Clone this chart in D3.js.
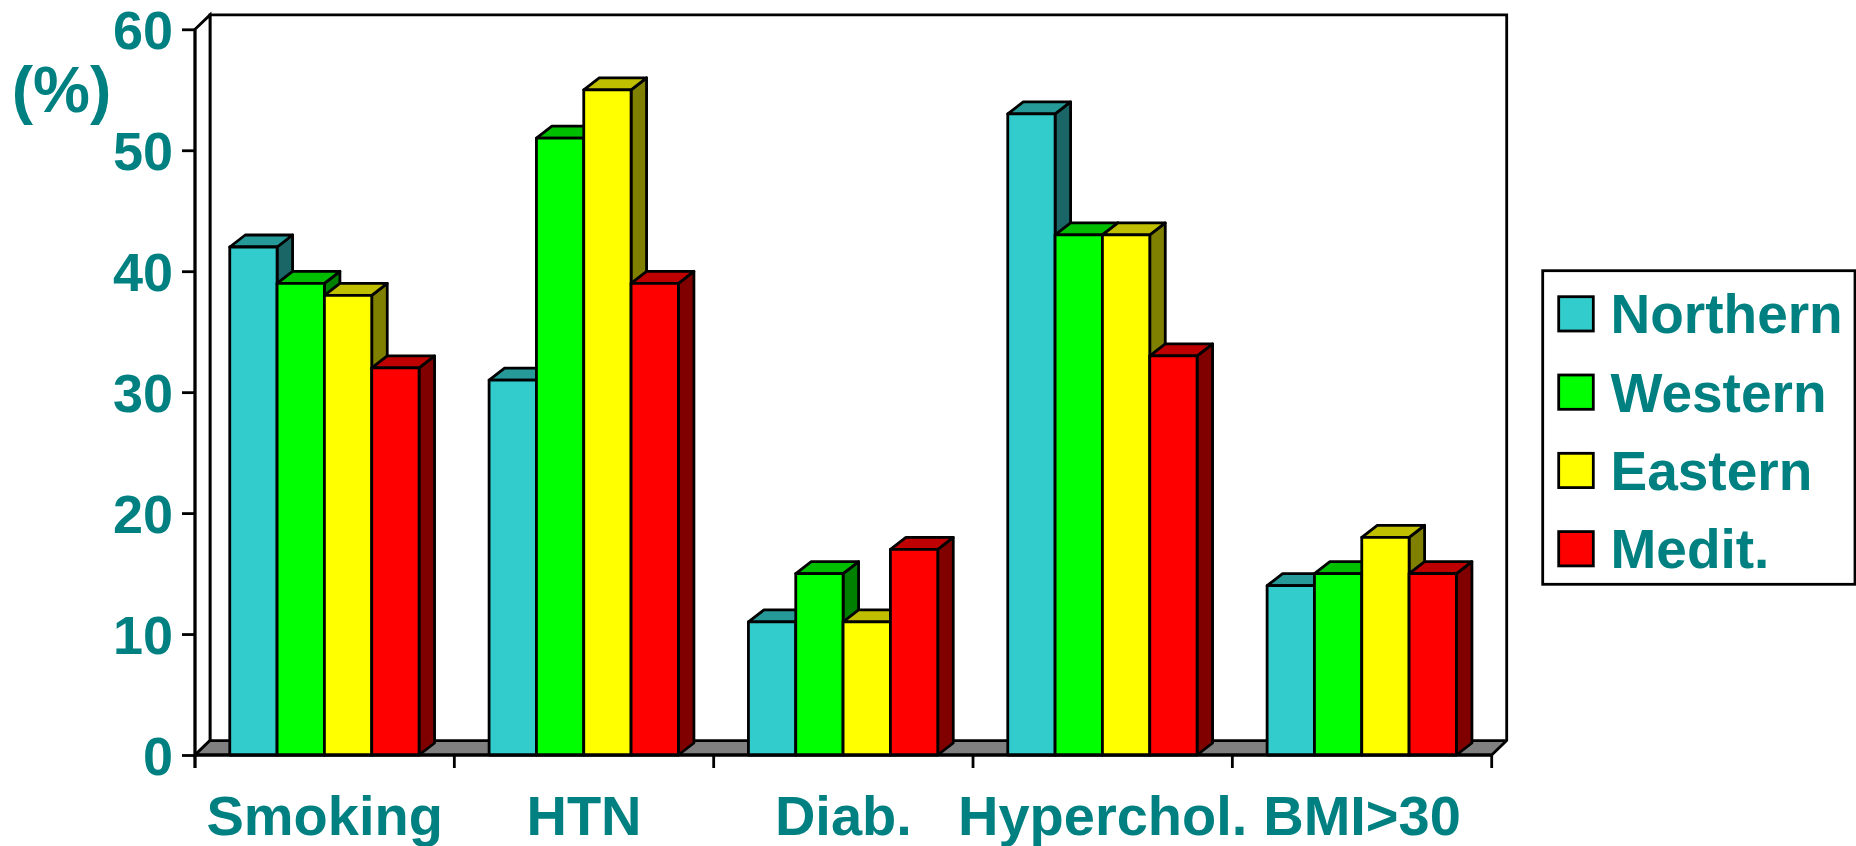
<!DOCTYPE html>
<html>
<head>
<meta charset="utf-8">
<script src="https://cdn.jsdelivr.net/npm/d3@7"></script>
<style>
  html, body { margin: 0; padding: 0; background: #fff; }
  svg { display: block; }
  text { font-family: "Liberation Sans", Arial, sans-serif; font-weight: bold; fill: #008080; }
</style>
</head>
<body>
<svg id="chart" width="1856" height="846"></svg>
<script>
// Risk factor prevalence (%) by region
const categories = ["Smoking", "HTN", "Diab.", "Hyperchol.", "BMI>30"];
const series = ["Northern", "Western", "Eastern", "Medit."];
const northern = [42, 31, 11, 53, 14];
const western  = [39, 51, 15, 43, 15];
const eastern  = [38, 55, 11, 43, 18];
const medit    = [32, 39, 17, 33, 15];
const yTicks = [0, 10, 20, 30, 40, 50, 60];
const yLabel = "(%)";

const values = [northern, western, eastern, medit];

// face colours: front, top, side
const palette = [
  { front: "#33CCCC", top: "#269999", side: "#1A6666" },
  { front: "#00FF00", top: "#00BF00", side: "#008000" },
  { front: "#FFFF00", top: "#BFBF00", side: "#808000" },
  { front: "#FF0000", top: "#BF0000", side: "#800000" }
];

const svg = d3.select("#chart");
const teal = "#008080";
const sw = 2.8;

// plot frame
const x0 = 195, x1 = 1491.7, yBase = 755, yTop = 29.3;
const wallDx = 15, wallDy = 14.4;   // floor / wall depth offset
const barDx = 15.5, barDy = 12;     // column depth offset

const x = d3.scaleBand().domain(categories).range([x0, x1]).paddingInner(0).paddingOuter(0);
const bw = x.bandwidth();
const xs = d3.scaleBand().domain(series)
  .range([bw * 0.134, bw * 0.134 + bw * 0.73]).padding(0);
const y = d3.scaleLinear().domain([0, 60]).range([yBase, yTop]);

const line = d3.line();

// back wall with top and right edges
const g = svg.append("g");
g.append("path")
  .attr("d", line([[x0 + wallDx, y(0) - wallDy], [x0 + wallDx, y(60) - wallDy],
                   [x1 + wallDx, y(60) - wallDy], [x1 + wallDx, y(0) - wallDy]]))
  .attr("fill", "none").attr("stroke", "#000").attr("stroke-width", sw);
// left side wall
g.append("path")
  .attr("d", line([[x0, y(0)], [x0, y(60)], [x0 + wallDx, y(60) - wallDy], [x0 + wallDx, y(0) - wallDy]]) + "Z")
  .attr("fill", "#fff").attr("stroke", "#000").attr("stroke-width", sw);
// floor
g.append("path")
  .attr("d", line([[x0, y(0)], [x1, y(0)], [x1 + wallDx, y(0) - wallDy], [x0 + wallDx, y(0) - wallDy]]) + "Z")
  .attr("fill", "#808080").attr("stroke", "#000").attr("stroke-width", sw).attr("stroke-linejoin", "round");

// columns, drawn left to right so each front face covers the previous side face
const bars = [];
categories.forEach((c, ci) => {
  series.forEach((s, si) => {
    bars.push({ c, s, si, v: values[si][ci] });
  });
});

const barG = svg.append("g");
bars.forEach(d => {
  const bx = x(d.c) + xs(d.s);
  const w = xs.bandwidth();
  const yt = y(d.v), yb = y(0);
  const col = palette[d.si];
  const gg = barG.append("g").attr("stroke", "#000").attr("stroke-width", sw).attr("stroke-linejoin", "round");
  // side face
  gg.append("path")
    .attr("d", line([[bx + w, yb], [bx + w, yt], [bx + w + barDx, yt - barDy], [bx + w + barDx, yb - barDy]]) + "Z")
    .attr("fill", col.side);
  // top face
  gg.append("path")
    .attr("d", line([[bx, yt], [bx + barDx, yt - barDy], [bx + w + barDx, yt - barDy], [bx + w, yt]]) + "Z")
    .attr("fill", col.top);
  // front face
  gg.append("rect")
    .attr("x", bx).attr("y", yt).attr("width", w).attr("height", yb - yt)
    .attr("fill", col.front);
});

// value axis
const yAxis = d3.axisLeft(y).tickValues(yTicks).tickSize(13).tickSizeOuter(0).tickPadding(9).tickFormat(d3.format("d"));
const yAx = svg.append("g").attr("transform", `translate(${x0},0)`).call(yAxis);
yAx.select(".domain").remove();
yAx.selectAll(".tick line").attr("stroke", "#000").attr("stroke-width", sw);
yAx.selectAll(".tick text")
  .attr("font-size", 54).attr("font-family", null).attr("fill", teal).attr("dy", "0.36em");
svg.append("line").attr("x1", x0).attr("x2", x0).attr("y1", y(60)).attr("y2", yBase + 13)
  .attr("stroke", "#000").attr("stroke-width", sw);

// category axis: baseline, boundary ticks and labels
svg.append("line").attr("x1", x0).attr("x2", x1).attr("y1", yBase).attr("y2", yBase)
  .attr("stroke", "#000").attr("stroke-width", sw);
const bounds = categories.map(c => x(c)).concat([x(categories[categories.length - 1]) + bw]);
svg.append("g").selectAll("line").data(bounds).join("line")
  .attr("x1", d => d).attr("x2", d => d).attr("y1", yBase).attr("y2", yBase + 13)
  .attr("stroke", "#000").attr("stroke-width", sw);
svg.append("g").selectAll("text").data(categories).join("text")
  .attr("x", d => x(d) + bw / 2).attr("y", 835)
  .attr("text-anchor", "middle").attr("font-size", 56)
  .text(d => d);

// unit label
svg.append("text").attr("x", 61.5).attr("y", 112).attr("text-anchor", "middle")
  .attr("font-size", 64).text(yLabel);

// legend
const lg = svg.append("g");
lg.append("rect").attr("x", 1542.7).attr("y", 270.7).attr("width", 312.3).attr("height", 313.6)
  .attr("fill", "#fff").attr("stroke", "#000").attr("stroke-width", sw);
const ly = d3.scalePoint().domain(series).range([296.7, 296.7 + 3 * 78.3]);
series.forEach((s, i) => {
  lg.append("rect").attr("x", 1558.7).attr("y", ly(s)).attr("width", 34.6).attr("height", 34.3)
    .attr("fill", palette[i].front).attr("stroke", "#000").attr("stroke-width", sw);
  lg.append("text").attr("x", 1610.5).attr("y", ly(s) + 36.6).attr("font-size", 55).text(s);
});
</script>
</body>
</html>
